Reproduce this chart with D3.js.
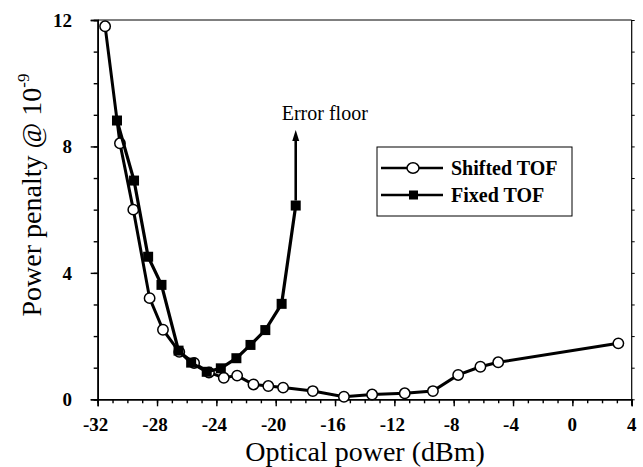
<!DOCTYPE html>
<html>
<head>
<meta charset="utf-8">
<script src="https://cdn.jsdelivr.net/npm/d3@7"></script>
<style>
  html, body { margin: 0; padding: 0; background: #fff; }
  svg { display: block; }
  text { font-family: "Liberation Serif", "Times New Roman", serif; fill: #000; }
</style>
</head>
<body>
<svg id="chart" width="643" height="467"></svg>
<script>
// ---- data ----
const shiftedX = [-31.5, -30.5, -29.6, -28.5, -27.6, -26.5, -25.5, -24.5, -23.5, -22.6, -21.5, -20.5, -19.5, -17.5, -15.4, -13.5, -11.3, -9.4, -7.7, -6.2, -5.0, 3.1];
const shiftedY = [11.8, 8.1, 6.0, 3.2, 2.2, 1.5, 1.15, 0.85, 0.68, 0.75, 0.47, 0.42, 0.37, 0.26, 0.08, 0.15, 0.19, 0.26, 0.77, 1.03, 1.17, 1.77];
const fixedX = [-30.7, -29.55, -28.6, -27.7, -26.55, -25.7, -24.65, -23.7, -22.65, -21.7, -20.7, -19.6, -18.65];
const fixedY = [8.82, 6.92, 4.51, 3.62, 1.54, 1.16, 0.87, 0.98, 1.30, 1.72, 2.19, 3.02, 6.13];
const xTicks = [-32, -28, -24, -20, -16, -12, -8, -4, 0, 4];
const yTicks = [0, 4, 8, 12];
const seriesNames = ["Shifted TOF", "Fixed TOF"];
const arrowTipY = 8.52;           // error-floor arrow top (data units)
const annotationText = "Error floor";

// ---- layout ----
const svg = d3.select("#chart");
const L = 97.7, R = 631.7, T = 20, B = 399.3;
const x = d3.scaleLinear().domain([-32, 4]).range([L, R]);
const y = d3.scaleLinear().domain([0, 12]).range([B, T]);

// frame (top & right)
svg.append("line").attr("x1", L).attr("x2", R).attr("y1", T).attr("y2", T)
  .attr("stroke", "#000").attr("stroke-width", 1);
svg.append("line").attr("x1", R).attr("x2", R).attr("y1", T).attr("y2", B + 6)
  .attr("stroke", "#000").attr("stroke-width", 1.2);

// bottom axis
const xAxis = svg.append("g").attr("transform", `translate(0,${B})`);
xAxis.call(d3.axisBottom(x).tickValues(d3.range(-32, 5, 1)).tickSize(4).tickFormat(""));
xAxis.append("g").call(d3.axisBottom(x).tickValues(xTicks).tickSize(7).tickFormat(""));
xAxis.selectAll(".domain").attr("stroke-width", 1.6);
xAxis.selectAll(".tick line").attr("stroke-width", 1.4);
xAxis.selectAll("text").remove();
svg.append("g").selectAll("text").data(xTicks).join("text")
  .attr("x", d => x(d) - (d < 0 ? 2 : 0)).attr("y", B + 32)
  .attr("text-anchor", "middle").attr("font-size", 19).attr("font-weight", "bold")
  .text(d => d);

// left axis
const yAxis = svg.append("g").attr("transform", `translate(${L},0)`);
yAxis.call(d3.axisLeft(y).tickValues(d3.range(0, 13, 1)).tickSize(4).tickFormat(""));
yAxis.append("g").call(d3.axisLeft(y).tickValues(yTicks).tickSize(7).tickFormat(""));
yAxis.selectAll(".domain").attr("stroke-width", 1.6);
yAxis.selectAll(".tick line").attr("stroke-width", 1.4);
svg.append("g").selectAll("text").data(yTicks).join("text")
  .attr("x", 72).attr("y", d => y(d) + 7)
  .attr("text-anchor", "end").attr("font-size", 19).attr("font-weight", "bold")
  .text(d => d);

// right axis minor ticks
svg.append("g").attr("transform", `translate(${R},0)`)
  .call(d3.axisRight(y).tickValues(d3.range(0, 13, 1)).tickSize(3).tickFormat(""))
  .call(g => g.select(".domain").remove());

// axis titles
svg.append("text").attr("x", 365).attr("y", 461).attr("text-anchor", "middle")
  .attr("font-size", 28).text("Optical power (dBm)");
const yl = svg.append("text").attr("transform", "translate(41,195) rotate(-90)")
  .attr("text-anchor", "middle").attr("font-size", 28);
yl.append("tspan").text("Power penalty @ 10");
yl.append("tspan").attr("font-size", 17).attr("dy", -12).text("-9");

// ---- series ----
const shifted = shiftedX.map((d, i) => [d, shiftedY[i]]);
const fixed = fixedX.map((d, i) => [d, fixedY[i]]);
const line = d3.line().x(d => x(d[0])).y(d => y(d[1]));

svg.append("path").datum(shifted).attr("d", line)
  .attr("fill", "none").attr("stroke", "#000").attr("stroke-width", 3);
svg.append("g").selectAll("circle").data(shifted).join("circle")
  .attr("cx", d => x(d[0])).attr("cy", d => y(d[1])).attr("r", 5.2)
  .attr("fill", "#fff").attr("stroke", "#000").attr("stroke-width", 1.5);

svg.append("path").datum(fixed).attr("d", line)
  .attr("fill", "none").attr("stroke", "#000").attr("stroke-width", 3.2);
svg.append("g").selectAll("rect").data(fixed).join("rect")
  .attr("x", d => x(d[0]) - 5).attr("y", d => y(d[1]) - 5)
  .attr("width", 10).attr("height", 10).attr("fill", "#000");

// error floor arrow
const last = fixed[fixed.length - 1];
const ax = x(last[0]);
svg.append("line").attr("x1", ax).attr("x2", ax)
  .attr("y1", y(last[1]) - 5).attr("y2", y(arrowTipY) + 8)
  .attr("stroke", "#000").attr("stroke-width", 2.6);
svg.append("path")
  .attr("d", `M${ax},${y(arrowTipY)} L${ax - 3.5},${y(arrowTipY) + 11} L${ax + 3.5},${y(arrowTipY) + 11} Z`)
  .attr("fill", "#000");
svg.append("text").attr("x", ax - 14).attr("y", y(arrowTipY) - 10)
  .attr("font-size", 20).text(annotationText);

// ---- legend ----
const lg = svg.append("g").attr("transform", "translate(377,147)");
lg.append("rect").attr("width", 195).attr("height", 69)
  .attr("fill", "#fff").attr("stroke", "#000").attr("stroke-width", 1);
seriesNames.forEach((name, i) => {
  const cy = 21 + i * 27;
  lg.append("line").attr("x1", 4).attr("x2", 66).attr("y1", cy).attr("y2", cy)
    .attr("stroke", "#000").attr("stroke-width", 2.5);
  if (i === 0) {
    lg.append("ellipse").attr("cx", 36).attr("cy", cy).attr("rx", 6).attr("ry", 5.2)
      .attr("fill", "#fff").attr("stroke", "#000").attr("stroke-width", 1.5);
  } else {
    lg.append("rect").attr("x", 32).attr("y", cy - 4.5).attr("width", 9).attr("height", 9)
      .attr("fill", "#000");
  }
  lg.append("text").attr("x", 74).attr("y", cy + 7).attr("font-size", 20)
    .attr("font-weight", "bold").text(name);
});
</script>
</body>
</html>
